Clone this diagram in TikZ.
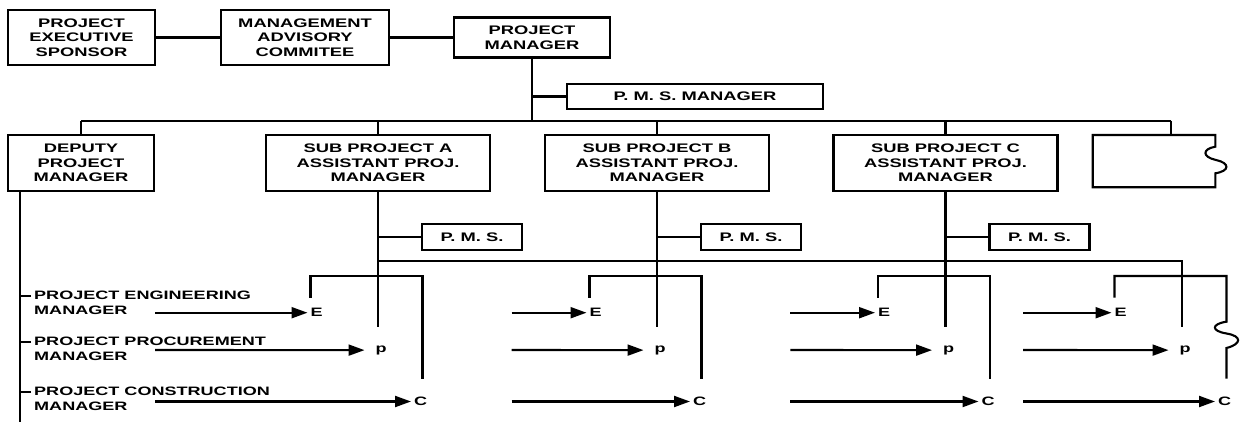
\documentclass[tikz,border=0pt]{standalone}
\usepackage{fontspec}
\setsansfont{Liberation Sans}[FakeStretch=1.48]
\usetikzlibrary{arrows.meta}
\definecolor{ink}{HTML}{000000}

\tikzset{
  orgbox/.style={draw=ink,line width=2.1pt,align=center,inner sep=0pt,
    font=\sffamily\bfseries\fontsize{12.4}{14.6}\selectfont},
  roletxt/.style={align=left,inner sep=0pt,anchor=north west,
    font=\sffamily\bfseries\fontsize{12.2}{15.3}\selectfont},
  tag/.style={inner sep=3pt,anchor=west,
    font=\sffamily\bfseries\fontsize{12.2}{14}\selectfont},
  link/.style={draw=ink,line width=2.1pt},
  thinlink/.style={draw=ink,line width=1.3pt},
  feed/.style={link,-{Triangle[length=16pt,width=11pt]}},
}

\begin{document}
\begin{tikzpicture}[x=1pt,y=-1pt,text=ink]
  \path[fill=white,use as bounding box] (0,0) rectangle (1242,422);

  % top row
  \node[orgbox,minimum width=147pt,minimum height=55pt] (sponsor) at (81.5,37.5)
    {PROJECT\\EXECUTIVE\\SPONSOR};
  \node[orgbox,minimum width=168pt,minimum height=55pt] (mac) at (305,37.5)
    {MANAGEMENT\\ADVISORY\\COMMITEE};
  \node[orgbox,minimum width=156pt,minimum height=40pt] (pm) at (532,37.5)
    {PROJECT\\MANAGER};
  \draw[link] (sponsor) -- (mac);
  \draw[link] (mac) -- (pm);

  \node[orgbox,minimum width=256pt,minimum height=25pt] (pmsm) at (695,96.5)
    {P. M. S. MANAGER};
  \coordinate (bus) at (532,120.7);
  \draw[link] (pm) -- (bus);
  \draw[link] (pm |- pmsm) -- (pmsm);

  % second row
  \node[orgbox,minimum width=146pt,minimum height=56pt] (deputy) at (81,163)
    {DEPUTY\\PROJECT\\MANAGER};
  \coordinate (blanktop) at (1171,135);
  \draw[link] (deputy.north |- bus) -- (blanktop |- bus);
  \draw[link] (deputy.north |- bus) -- (deputy);
  \draw[link] (blanktop |- bus) -- (blanktop);
  \draw[link] (1092.7,135) -- (1215.3,135) -- (1215.3,146.7)
    .. controls (1202,149) and (1202,157) .. (1216,160)
    .. controls (1230,163) and (1230,171) .. (1215.3,173.3)
    -- (1215.3,187.3) -- (1092.7,187.3) -- cycle;

  \foreach \n/\x/\s in {subA/378/A,subB/657/B,subC/945.5/C}{
    \node[orgbox,minimum width=224pt,minimum height=56pt] (\n) at (\x,163)
      {SUB PROJECT \s\\ASSISTANT PROJ.\\MANAGER};
    \node[orgbox,minimum width=100pt,minimum height=25.5pt] (pms\s) at (\x+94,237)
      {P. M. S.};
    \draw[link] (\n.north |- bus) -- (\n);
    \draw[link] (\n) -- (\x,327);
    \draw[link] (\n |- pms\s) -- (pms\s);
    \draw[link] (\x-67.5,297.5) |- (\x+44.5,276) -- (\x+44.5,378.5);
  }

  % feed to the last group
  \coordinate (thinrow) at (0,261);
  \coordinate (subD) at (1182,276);
  \draw[thinlink] (subA |- thinrow) -| (subD);
  \draw[link] (subD) -- (1182,327);
  \draw[link] (1114.5,297.5) |- (1226.5,276) -- (1226.5,321.7)
    .. controls (1211,324) and (1211,331) .. (1226.5,333.5)
    .. controls (1242,336) and (1242,344) .. (1226.5,348)
    -- (1226.5,378.5);

  % deputy line and roles
  \coordinate (dend) at (20,422);
  \draw[link] (deputy.south -| dend) -- (dend);
  \node[roletxt] (eng) at (34,290.7) {PROJECT ENGINEERING\\MANAGER};
  \node[roletxt] (proc) at (34,336.3) {PROJECT PROCUREMENT\\MANAGER};
  \node[roletxt] (cons) at (34,386.3) {PROJECT CONSTRUCTION\\MANAGER};
  \foreach \r in {eng,proc,cons}
    \draw[link] ([xshift=-3pt,yshift=-5.3pt]\r.north west) -- ++(-11,0);

  % E, p, C arrows
  \foreach \g/\v/\s in {A/378/155,B/657/511.5,C/945.5/790.3,D/1182/1023}{
    \node[tag] (E\g) at (\v-70.5,312.7) {E};
    \node[tag,anchor=mid west] (p\g) at (\v-5.5,350) {p};
    \node[tag] (C\g) at (\v+33,401.5) {C};
    \draw[feed] (\s,312.7) -- (E\g);
    \draw[feed] (\s,350) -- ([xshift=-8pt]p\g.west);
    \draw[feed] (\s,401.5) -- (C\g);
  }
\end{tikzpicture}
\end{document}
